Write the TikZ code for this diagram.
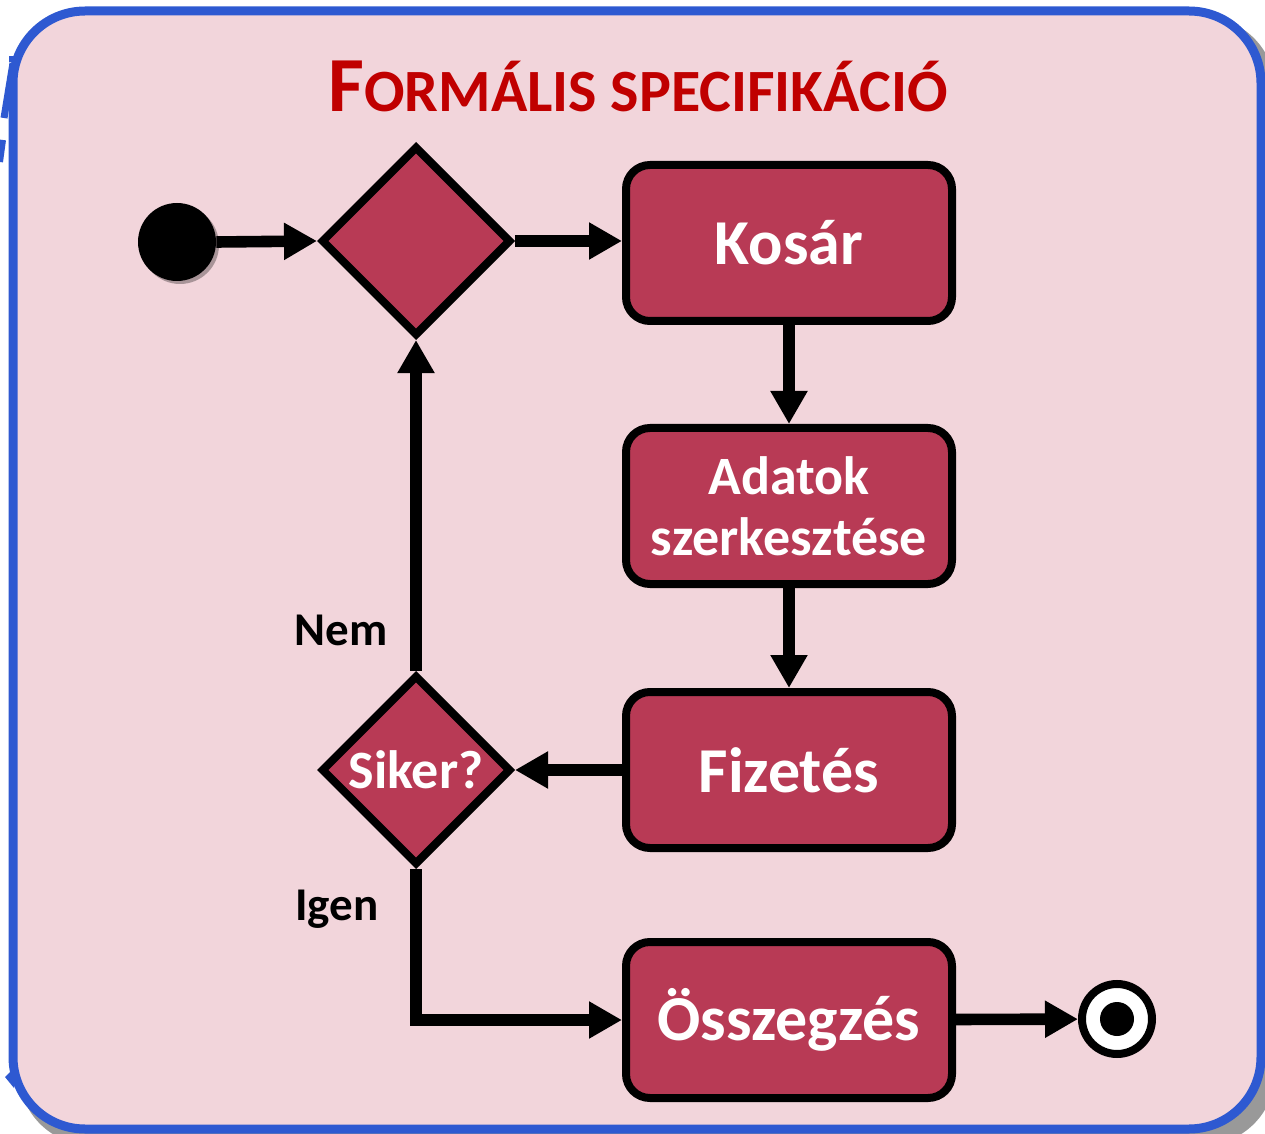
\documentclass[tikz,border=0pt]{standalone}
\usepackage{fontspec}
\setmainfont{Carlito}
\usetikzlibrary{shapes.geometric,arrows.meta,shadows}
\definecolor{bgpink}{HTML}{F2D5DB}
\definecolor{frameblue}{HTML}{2E59D1}
\definecolor{nodefill}{HTML}{B83A55}
\definecolor{titlered}{HTML}{C00000}
\begin{document}
\begin{tikzpicture}[x=0.5pt,y=-0.5pt,
  shd/.style={drop shadow={shadow xshift=1.5pt,shadow yshift=-1.5pt,opacity=.3,fill=black}},
  actbox/.style={draw=black, line width=4pt, fill=nodefill, rounded corners=12pt,
    minimum width=163pt, minimum height=78pt, inner sep=0pt, text=white,
    font=\bfseries\fontsize{32}{38}\selectfont, align=center, shd},
  decision/.style={diamond, aspect=1, draw=black, line width=4pt, fill=nodefill,
    minimum width=95pt, minimum height=95pt, inner sep=0pt, text=white,
    font=\bfseries\fontsize{27}{32}\selectfont, shd},
  lbl/.style={font=\bfseries\fontsize{23.5}{28}\selectfont, anchor=base, text=black},
  conn/.style={line width=5.8pt, draw=black, -{Triangle[length=16.5pt,width=17.5pt]}}
]
\useasboundingbox (0,0) rectangle (1265,1134);
% frame
\fill[black!40, rounded corners=36pt] (19,17) rectangle (1275,1145);
\draw[frameblue, line width=4.5pt, fill=bgpink, rounded corners=36pt] (13,11) rectangle (1261,1129);
% fragments at left edge
\draw[frameblue, line width=3pt] (9,59) -- (16,59);
\draw[frameblue, line width=3.5pt] (13,63) -- (4,118);
\draw[frameblue, line width=3pt] (3,140) -- (0,162);
\fill[frameblue] (5,1077) -- (14,1068) -- (14,1088) -- cycle;
% title
\node[text=titlered, font=\bfseries, anchor=base] (title) at (638,112)
  {{\fontsize{39}{42}\selectfont F}{\fontsize{30}{34}\selectfont ORMÁLIS SPECIFIKÁCIÓ}};
% nodes
\node[circle, fill=black, minimum size=39pt, inner sep=0pt, shd] (start) at (177,242) {};
\node[decision] (d1) at (416,241) {};
\node[actbox] (kosar) at (789,243) {Kosár};
\node[actbox, font=\bfseries\fontsize{27}{30.5}\selectfont] (adatok) at (789,506) {Adatok\\szerkesztése};
\node[actbox] (fizetes) at (789,770) {Fizetés};
\node[decision] (siker) at (416,770) {Siker?};
\node[actbox] (osszeg) at (789,1020) {Összegzés};
\node[circle, draw=black, line width=4pt, fill=white, minimum size=35pt, inner sep=0pt, shd] (end) at (1117,1019) {};
\node[circle, fill=black, minimum size=17pt, inner sep=0pt] (enddot) at (end.center) {};
\node[lbl] (nem) at (341,645) {Nem};
\node[lbl] (igen) at (337,920) {Igen};
% connectors
\draw[conn] (start.east) -- (d1.west);
\draw[conn] (d1.east) -- (kosar.west |- d1.east);
\draw[conn] (kosar) -- (adatok);
\draw[conn] (adatok) -- (fizetes);
\draw[conn] (fizetes) -- (siker);
\draw[conn] (siker) -- (d1);
\draw[conn] (siker.south) |- (osszeg.west);
\draw[conn] (osszeg) -- (end);
\end{tikzpicture}
\end{document}
